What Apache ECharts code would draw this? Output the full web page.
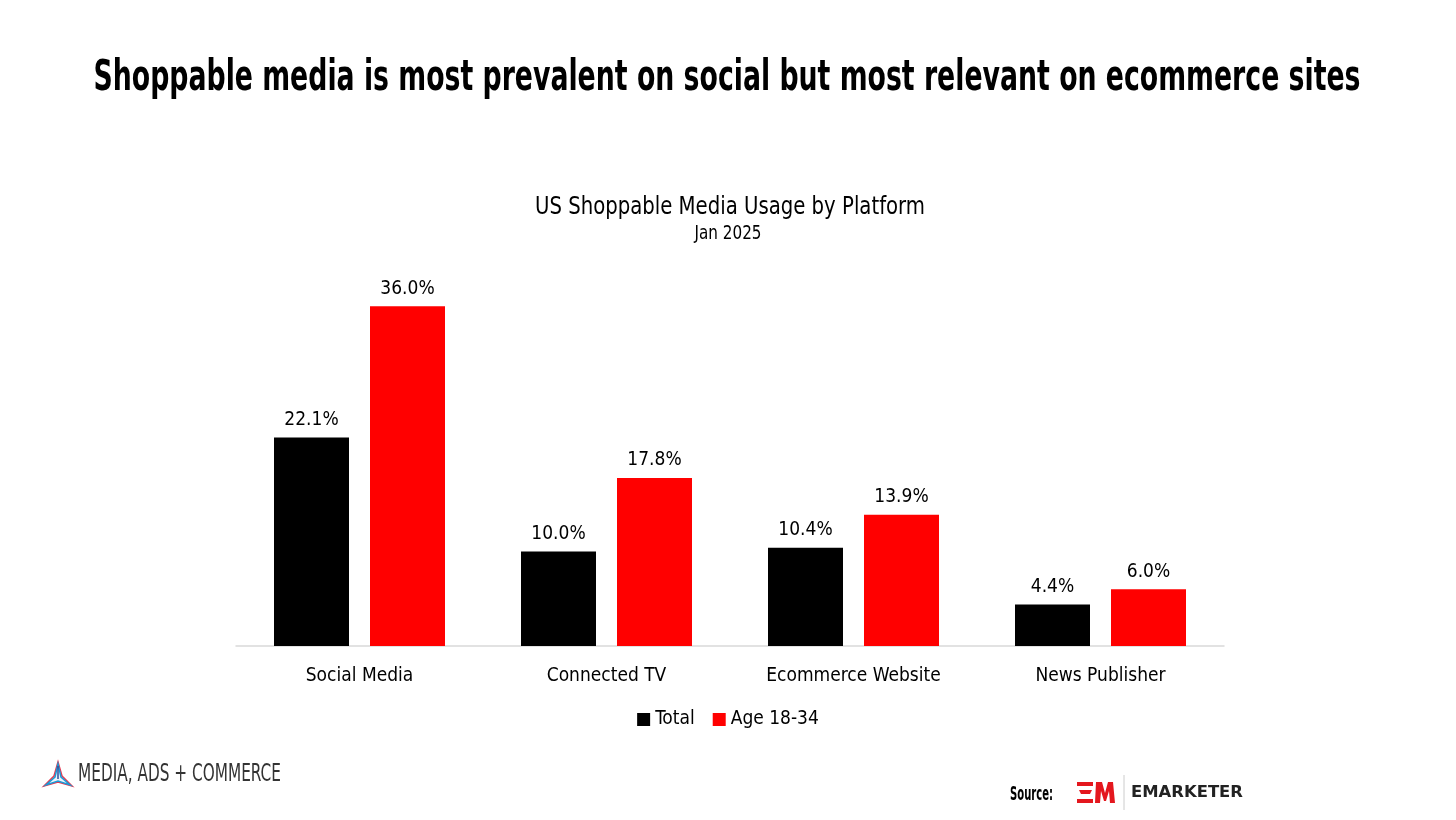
<!DOCTYPE html>
<html>
<head>
<meta charset="utf-8">
<script src="https://cdn.jsdelivr.net/npm/echarts@6/dist/echarts.min.js"></script>
<style>
html,body{margin:0;padding:0;background:#fff;}
#c{width:1456px;height:820px;}
</style>
</head>
<body>
<div id="c"></div>
<script>
var categories = ['Social Media', 'Connected TV', 'Ecommerce Website', 'News Publisher'];
var totalValues = [22.1, 10.0, 10.4, 4.4];
var youngValues = [36.0, 17.8, 13.9, 6.0];
var seriesNames = ['Total', 'Age 18-34'];
var titleText = 'Shoppable media is most prevalent on social but most relevant on ecommerce sites';
var chartTitle = 'US Shoppable Media Usage by Platform';
var chartSubtitle = 'Jan 2025';

var FONT = '"DejaVu Sans Condensed", "DejaVu Sans", sans-serif';

var mctx = document.createElement('canvas').getContext('2d');
function fitScale(text, font, target) {
  mctx.font = font;
  return target / mctx.measureText(text).width;
}
function scaledText(text, x, y, size, weight, target, align, color, extra) {
  var fam = extra && extra.family ? extra.family : FONT;
  var s = fitScale(text, weight + ' ' + size + 'px ' + fam, target);
  var st = { text: text, x: 0, y: 0, fontFamily: fam, fontSize: size, fontWeight: weight,
             fill: color, align: align, verticalAlign: 'middle' };
  return { type: 'text', x: x, y: y, scaleX: s, scaleY: 1, style: st, silent: true };
}

var chart = echarts.init(document.getElementById('c'));
chart.setOption({
  backgroundColor: '#ffffff',
  animation: false,
  textStyle: { fontFamily: FONT },
  legend: {
    data: seriesNames,
    left: 'center', top: 705,
    itemWidth: 13, itemHeight: 13, itemGap: 18,
    icon: 'rect',
    textStyle: { fontFamily: FONT, fontSize: 19, color: '#000' }
  },
  grid: { left: 236, right: 232, top: 268.4, bottom: 174 },
  xAxis: {
    type: 'category', data: categories,
    axisLine: { lineStyle: { color: '#d9d9d9', width: 1.5 } },
    axisTick: { show: false },
    axisLabel: { interval: 0, fontFamily: FONT, fontSize: 19, color: '#000', margin: 21 }
  },
  yAxis: {
    type: 'value', min: 0, max: 40,
    show: false, splitLine: { show: false }
  },
  series: [
    { name: seriesNames[0], type: 'bar', data: totalValues,
      barWidth: 75, barGap: '28%',
      itemStyle: { color: '#000000' },
      label: { show: true, position: 'top', distance: 8, formatter: function(p){ return p.value.toFixed(1) + '%'; },
               fontFamily: FONT, fontSize: 19, color: '#000' } },
    { name: seriesNames[1], type: 'bar', data: youngValues,
      barWidth: 75,
      itemStyle: { color: '#ff0000' },
      label: { show: true, position: 'top', distance: 8, formatter: function(p){ return p.value.toFixed(1) + '%'; },
               fontFamily: FONT, fontSize: 19, color: '#000' } }
  ],
  graphic: [
    scaledText(titleText, 727, 79, 42, 'bold', 1267, 'center', '#000'),
    scaledText(chartTitle, 730, 208, 24, 'normal', 390, 'center', '#000'),
    scaledText(chartSubtitle, 728, 234, 20, 'normal', 67, 'center', '#000'),
    // Media, Ads + Commerce icon
    { type: 'polygon', silent: true, shape: { points: [[58,762],[62,776],[72,786],[58,782],[44,786],[54,776]] },
      style: { fill: '#eaf4fb', stroke: '#e8384f', lineWidth: 1.5 } },
    { type: 'polygon', silent: true, shape: { points: [[58,764],[61,777],[70,785],[58,781],[46,785],[55,777]] },
      style: { fill: 'none', stroke: '#1b9ad6', lineWidth: 1.5 } },
    { type: 'line', silent: true, shape: { x1: 58, y1: 766, x2: 58, y2: 779 }, style: { stroke: '#2a4f9e', lineWidth: 1.5 } },
    scaledText('MEDIA, ADS + COMMERCE', 78, 774.5, 25, 'normal', 203, 'left', '#333333'),
    // Source
    scaledText('Source:', 1010, 795, 20, 'bold', 43, 'left', '#000'),
    // EM logo
    { type: 'rect', silent: true, shape: { x: 1077, y: 782, width: 16, height: 4 }, style: { fill: '#e4171e' } },
    { type: 'polygon', silent: true, shape: { points: [[1079,790],[1092,790],[1090,794],[1081,794]] }, style: { fill: '#e4171e' } },
    { type: 'rect', silent: true, shape: { x: 1077, y: 799, width: 16, height: 4 }, style: { fill: '#e4171e' } },
    { type: 'polygon', silent: true, shape: { points: [[1095,803],[1096,782],[1102,782],[1105,793],[1108,782],[1113,782],[1115,803],[1110,803],[1109,791],[1106,801],[1104,801],[1101,791],[1100,803]] }, style: { fill: '#e4171e' } },
    { type: 'line', silent: true, shape: { x1: 1124, y1: 775, x2: 1124, y2: 810 }, style: { stroke: '#cccccc', lineWidth: 1 } },
    scaledText('EMARKETER', 1131, 793.5, 15, 'bold', 112, 'left', '#222222', { family: '"DejaVu Sans", sans-serif' })
  ]
});
</script>
</body>
</html>
